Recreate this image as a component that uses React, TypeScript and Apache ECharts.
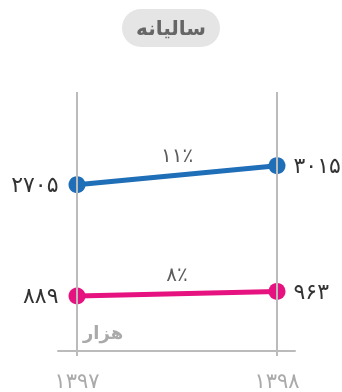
import React, { useEffect, useRef } from "react";
import * as echarts from "echarts";

const years = ["۱۳۹۷", "۱۳۹۸"];
const blueValues = [2705, 3015];
const pinkValues = [889, 963];
const changeLabels = ["۱۱٪", "۸٪"];
const titleText = "سالیانه";
const unitText = "هزار";

const FONT = "DejaVu Sans";
const BLUE = "#1f6eb8";
const PINK = "#e5127f";

const toFa = (n: number) =>
  String(n).replace(/[0-9]/g, (d) => "۰۱۲۳۴۵۶۷۸۹"[Number(d)]);

function lineSeries(values: number[], color: string) {
  return {
    type: "line",
    z: 3,
    symbol: "circle",
    symbolSize: 17,
    lineStyle: { color, width: 5 },
    itemStyle: { color },
    data: values.map((v, i) => ({
      value: [i, v],
      label: {
        show: true,
        position: i === 0 ? "left" : "right",
        distance: i === 0 ? 10 : 8,
        formatter: toFa(v),
        color: "#333",
        fontSize: 22,
        fontFamily: FONT,
      },
    })),
  };
}

export default function App() {
  const ref = useRef<HTMLDivElement>(null);
  useEffect(() => {
    if (!ref.current) return;
    const chart = echarts.init(ref.current, null, { renderer: "svg" });
    const groups = [blueValues, pinkValues];
    chart.setOption({
      animation: false,
      title: {
        text: titleText,
        left: "center",
        top: 9,
        backgroundColor: "#e5e5e5",
        borderRadius: 20,
        padding: [9, 14],
        textStyle: { fontSize: 20, fontWeight: "bold", color: "#666", fontFamily: FONT },
      },
      grid: { left: 58, right: 47, top: 92, bottom: 36 },
      xAxis: {
        type: "value",
        min: -0.095,
        max: 1.09,
        splitLine: { show: false },
        axisTick: { show: false },
        axisLine: { show: true, lineStyle: { color: "#bbb", width: 2 } },
        axisLabel: {
          customValues: [0, 1],
          formatter: (v: number) => years[Math.round(v)] ?? "",
          color: "#aaa",
          fontSize: 21,
          fontFamily: FONT,
          margin: 14,
        },
      },
      yAxis: {
        type: "value",
        min: -90,
        max: 4217,
        show: false,
        splitLine: { show: false },
      },
      graphic: [
        {
          type: "text",
          left: 83,
          top: 323,
          style: { text: unitText, fill: "#aaa", fontSize: 18, fontFamily: FONT, fontWeight: "bold" },
        },
      ],
      series: [
        {
          type: "scatter",
          z: 1,
          symbolSize: 0,
          silent: true,
          data: groups.map((g, i) => ({
            value: [0.5, (g[0] + g[1]) / 2],
            label: {
              show: true,
              position: "top",
              distance: 10,
              formatter: changeLabels[i],
              color: "#333",
              fontSize: 20,
              fontFamily: FONT,
            },
          })),
          markLine: {
            silent: true,
            symbol: "none",
            label: { show: false },
            lineStyle: { color: "#bbb", width: 2, type: "solid" },
            data: [{ xAxis: 0 }, { xAxis: 1 }],
          },
        },
        lineSeries(blueValues, BLUE),
        lineSeries(pinkValues, PINK),
      ],
    });
    return () => chart.dispose();
  }, []);
  return (
    <div
      ref={ref}
      style={{ position: "fixed", left: 0, top: 0, width: 342, height: 392 }}
    />
  );
}
